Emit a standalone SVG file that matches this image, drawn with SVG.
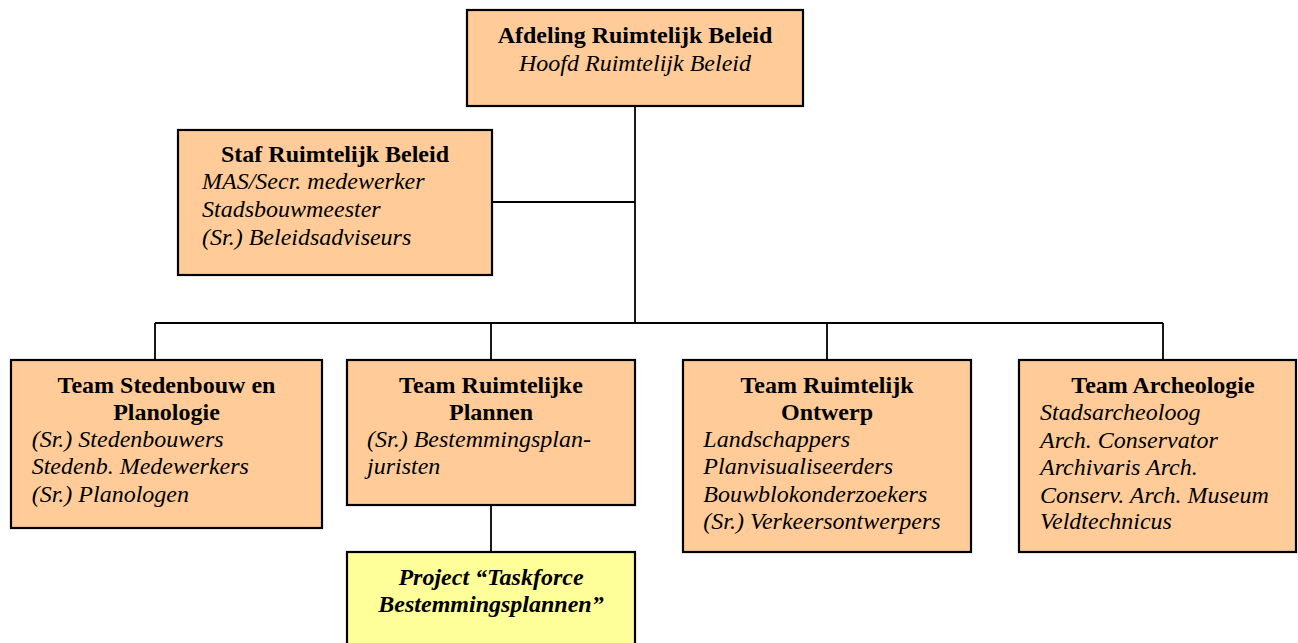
<svg xmlns="http://www.w3.org/2000/svg" width="1298" height="643" viewBox="0 0 1298 643">
<style>
.box{fill:#FFCC99;stroke:#000;stroke-width:2.2}
.proj{fill:#FFFF99;stroke:#000;stroke-width:2.2}
.t{font-family:"Liberation Serif","Times New Roman",serif;font-size:24px;fill:#000}
.b{font-weight:bold;text-anchor:middle}
.i{font-style:italic}
.bi{font-weight:bold;font-style:italic;text-anchor:middle}
.c{fill:none;stroke:#000;stroke-width:1.8}
</style>
<rect width="1298" height="643" fill="#fff"/>
<g id="connectors">
<path class="c" d="M635 106V323"/>
<path class="c" d="M492 202H635"/>
<path class="c" d="M155 323H1163"/>
<path class="c" d="M155 323V360M491 323V360M827 323V360M1163 323V360"/>
<path class="c" d="M491 505V552"/>
</g>
<g id="afdeling">
<rect class="box" x="467" y="10" width="336" height="96"/>
<text class="t b" x="635" y="42.7">Afdeling Ruimtelijk Beleid</text>
<text class="t i" x="635" y="70.7" text-anchor="middle">Hoofd Ruimtelijk Beleid</text>
</g>
<g id="staf">
<rect class="box" x="178" y="130" width="314" height="145"/>
<text class="t b" x="335" y="161.7">Staf Ruimtelijk Beleid</text>
<text class="t i" x="202" y="189">MAS/Secr. medewerker</text>
<text class="t i" x="202" y="217">Stadsbouwmeester</text>
<text class="t i" x="202" y="245">(Sr.) Beleidsadviseurs</text>
</g>
<g id="stedenbouw">
<rect class="box" x="11" y="360" width="311" height="168"/>
<text class="t b" x="166.5" y="392.7">Team Stedenbouw en</text>
<text class="t b" x="166.5" y="420">Planologie</text>
<text class="t i" x="31.7" y="446.7">(Sr.) Stedenbouwers</text>
<text class="t i" x="31.7" y="474.3">Stedenb. Medewerkers</text>
<text class="t i" x="31.7" y="501.7">(Sr.) Planologen</text>
</g>
<g id="plannen">
<rect class="box" x="347" y="360" width="288" height="145"/>
<text class="t b" x="491" y="392.7">Team Ruimtelijke</text>
<text class="t b" x="491" y="420">Plannen</text>
<text class="t i" x="367" y="446.7">(Sr.) Bestemmingsplan-</text>
<text class="t i" x="367" y="474">juristen</text>
</g>
<g id="ontwerp">
<rect class="box" x="683" y="360" width="288" height="192"/>
<text class="t b" x="827" y="392.7">Team Ruimtelijk</text>
<text class="t b" x="827" y="420">Ontwerp</text>
<text class="t i" x="703.3" y="446.7">Landschappers</text>
<text class="t i" x="703.3" y="474">Planvisualiseerders</text>
<text class="t i" x="703.3" y="501.7">Bouwblokonderzoekers</text>
<text class="t i" x="703.3" y="529">(Sr.) Verkeersontwerpers</text>
</g>
<g id="archeologie">
<rect class="box" x="1019" y="360" width="277" height="192"/>
<text class="t b" x="1163" y="392.7">Team Archeologie</text>
<text class="t i" x="1040" y="420">Stadsarcheoloog</text>
<text class="t i" x="1040" y="448">Arch. Conservator</text>
<text class="t i" x="1040" y="475">Archivaris Arch.</text>
<text class="t i" x="1040" y="502.7">Conserv. Arch. Museum</text>
<text class="t i" x="1040" y="529.3">Veldtechnicus</text>
</g>
<g id="taskforce">
<rect class="proj" x="347" y="552" width="288" height="100"/>
<text class="t bi" x="491" y="585">Project “Taskforce</text>
<text class="t bi" x="491" y="611.7">Bestemmingsplannen”</text>
</g>
</svg>
